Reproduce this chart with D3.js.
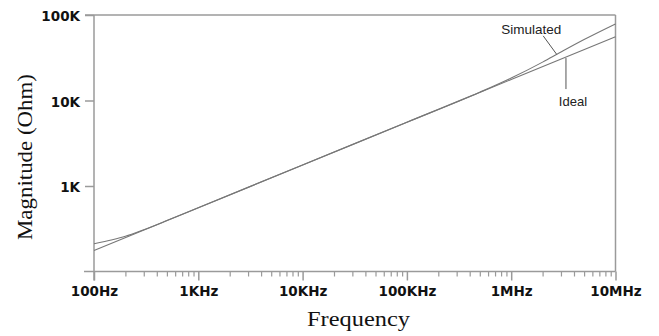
<!DOCTYPE html>
<html>
<head>
<meta charset="utf-8">
<script src="https://cdn.jsdelivr.net/npm/d3@7"></script>
<style>
  body { margin: 0; background: #fff; }
  svg { display: block; }
</style>
</head>
<body>
<div id="chart"></div>
<script>
// values (Hz, Ohm)
var idealFreq  = [100, 1e3, 1e4, 1e5, 1e6, 1e7];
var idealMag   = [176, 557, 1760, 5570, 17600, 55700];

var simFreq = [100, 150, 200, 300, 500, 1e3, 1e4, 1e5, 5e5, 1e6, 2e6, 3e6, 5e6, 1e7];
var simMag  = [211, 235, 258, 308, 394, 557, 1760, 5570, 12500, 18300, 28100, 36900, 51600, 78600];

var xTickValues = [1e2, 1e3, 1e4, 1e5, 1e6, 1e7];
var xTickLabels = ["100Hz", "1KHz", "10KHz", "100KHz", "1MHz", "10MHz"];
var yTickValues = [1e3, 1e4, 1e5];
var yTickLabels = ["1K", "10K", "100K"];

var W = 659, H = 336;
var plotLeft = 94, plotRight = 615.5, plotTop = 15, plotBottom = 271.5;
var axisColor = "#9a9a9a";

var svg = d3.select("#chart").append("svg")
    .attr("width", W)
    .attr("height", H);

var x = d3.scaleLog().domain([100, 1e7]).range([plotLeft, plotRight]);
var y = d3.scaleLog().domain([100, 1e5]).range([plotBottom, plotTop]);

// minor ticks on x (2..9 of each decade)
var minor = [];
xTickValues.slice(0, -1).forEach(function(d) {
    for (var k = 2; k <= 9; k++) minor.push(d * k);
});

var gMinor = svg.append("g")
    .attr("transform", "translate(0," + plotBottom + ")")
    .call(d3.axisBottom(x).tickValues(minor).tickSize(5).tickSizeOuter(0).tickFormat(""));
gMinor.select(".domain").remove();
gMinor.selectAll("line").attr("stroke", axisColor).attr("stroke-width", 1.2);

var gx = svg.append("g")
    .attr("transform", "translate(0," + plotBottom + ")")
    .call(d3.axisBottom(x).tickValues(xTickValues).tickSize(9).tickPadding(6)
        .tickFormat(function(d, i) { return xTickLabels[i]; }));
gx.select(".domain").remove();
gx.selectAll("line").attr("stroke", axisColor).attr("stroke-width", 1.5);
gx.selectAll("text")
    .attr("fill", "#111")
    .style("font-family", "'DejaVu Sans', sans-serif")
    .style("font-weight", "bold")
    .style("font-size", "13.5px");

var gy = svg.append("g")
    .attr("transform", "translate(" + plotLeft + ",0)")
    .call(d3.axisLeft(y).tickValues(yTickValues).tickSize(9).tickPadding(5)
        .tickFormat(function(d, i) { return yTickLabels[i]; }));
gy.select(".domain").remove();
gy.selectAll("line").attr("stroke", axisColor).attr("stroke-width", 1.5);
gy.selectAll("text")
    .attr("fill", "#111")
    .attr("dy", "0.42em")
    .style("font-family", "'DejaVu Sans', sans-serif")
    .style("font-weight", "bold")
    .style("font-size", "13.5px");

// frame
var frame = svg.append("g")
    .attr("stroke", axisColor)
    .attr("stroke-width", 1.5)
    .attr("fill", "none");
frame.append("line").attr("x1", plotLeft - 10).attr("x2", plotRight).attr("y1", plotBottom).attr("y2", plotBottom);
frame.append("line").attr("x1", plotLeft).attr("x2", plotLeft).attr("y1", plotTop).attr("y2", plotBottom + 9);
frame.append("line").attr("x1", plotRight).attr("x2", plotRight).attr("y1", plotTop).attr("y2", plotBottom);
frame.append("line").attr("x1", plotLeft - 9).attr("x2", plotRight).attr("y1", plotTop).attr("y2", plotTop);

// curves
var line = d3.line()
    .x(function(d) { return x(d[0]); })
    .y(function(d) { return y(d[1]); })
    .curve(d3.curveMonotoneX);

svg.append("path")
    .datum(d3.zip(idealFreq, idealMag))
    .attr("d", line)
    .attr("fill", "none")
    .attr("stroke", "#777")
    .attr("stroke-width", 1.1);

svg.append("path")
    .datum(d3.zip(simFreq, simMag))
    .attr("d", line)
    .attr("fill", "none")
    .attr("stroke", "#777")
    .attr("stroke-width", 1.1);

// annotations
function interp(fs, ms, f) {
    var lf = Math.log10(f);
    for (var i = 0; i < fs.length - 1; i++) {
        var a = Math.log10(fs[i]), b = Math.log10(fs[i + 1]);
        if (lf >= a && lf <= b) {
            var t = (lf - a) / (b - a);
            return Math.pow(10, Math.log10(ms[i]) + t * (Math.log10(ms[i + 1]) - Math.log10(ms[i])));
        }
    }
    return ms[ms.length - 1];
}

var ann = svg.append("g")
    .style("font-family", "'Liberation Sans', Arial, sans-serif")
    .style("font-size", "13.5px")
    .attr("fill", "#222");

var sf = 2.73e6;
var sx = x(sf), sy = y(interp(simFreq, simMag, sf));
ann.append("line")
    .attr("x1", sx).attr("y1", sy)
    .attr("x2", sx - 13.5).attr("y2", sy - 18.5)
    .attr("stroke", "#555").attr("stroke-width", 1);
ann.append("text")
    .attr("x", sx - 25.5).attr("y", sy - 20)
    .attr("text-anchor", "middle")
    .text("Simulated");

var idf = 3.35e6;
var ix = x(idf), iy = y(interp(idealFreq, idealMag, idf));
ann.append("line")
    .attr("x1", ix).attr("y1", iy + 1)
    .attr("x2", ix).attr("y2", iy + 32)
    .attr("stroke", "#555").attr("stroke-width", 1);
ann.append("text")
    .attr("x", ix + 7).attr("y", iy + 49)
    .attr("text-anchor", "middle")
    .style("font-size", "13px")
    .text("Ideal");

// axis titles
svg.append("text")
    .attr("x", 358.5).attr("y", 326)
    .attr("text-anchor", "middle")
    .attr("textLength", 103)
    .attr("lengthAdjust", "spacingAndGlyphs")
    .style("font-family", "'Liberation Serif', 'Times New Roman', serif")
    .style("font-size", "20px")
    .attr("fill", "#111")
    .text("Frequency");

svg.append("text")
    .attr("transform", "translate(32,157) rotate(-90)")
    .attr("text-anchor", "middle")
    .attr("textLength", 166)
    .attr("lengthAdjust", "spacingAndGlyphs")
    .style("font-family", "'Liberation Serif', 'Times New Roman', serif")
    .style("font-size", "20px")
    .attr("fill", "#111")
    .text("Magnitude (Ohm)");
</script>
</body>
</html>
